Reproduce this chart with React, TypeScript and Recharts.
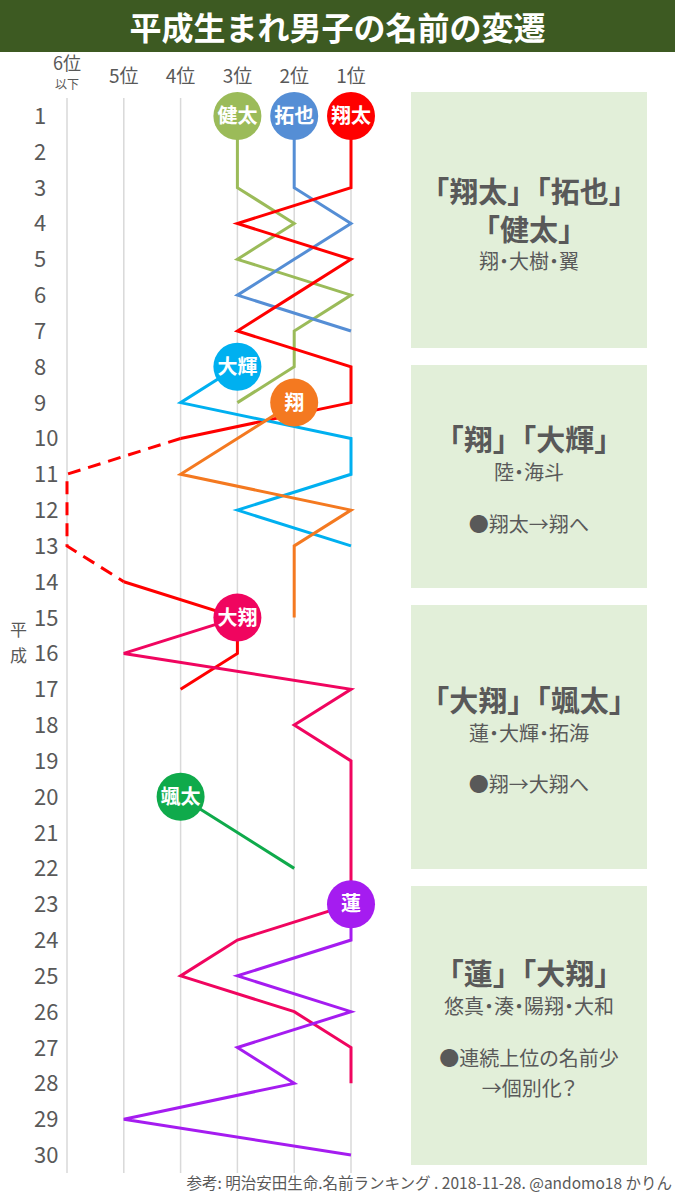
import React from 'react';
import { LineChart, Line, XAxis, YAxis, CartesianGrid, ReferenceDot } from 'recharts';

// ---- data (平成 year → ranking; 6 = 6位以下) ----
const years = [1, 2, 3, 4, 5, 6, 7, 8, 9, 10, 11, 12, 13, 14, 15, 16, 17, 18, 19, 20, 21, 22, 23, 24, 25, 26, 27, 28, 29, 30];
const rankTicks = [1, 2, 3, 4, 5, 6];
const rankLabels = ['1位', '2位', '3位', '4位', '5位', '6位'];

const kentaStart = 1;
const kentaRanks = [3, 3, 3, 2, 3, 1, 2, 2, 3];
const takuyaStart = 1;
const takuyaRanks = [2, 2, 2, 1, 2, 3, 1];
const shotaStart = 1;
const shotaRanks = [1, 1, 1, 3, 1, 2, 3, 1, 1, 4];
const shotaOutStart = 10;
const shotaOutRanks = [4, 6, 6, 6, 5];
const shotaLateStart = 14;
const shotaLateRanks = [5, 3, 3, 4];
const daikiStart = 8;
const daikiRanks = [3, 4, 1, 1, 3, 1];
const shoStart = 9;
const shoRanks = [2, 3, 4, 1, 2, 2, 2];
const hirotoStart = 15;
const hirotoRanks = [3, 5, 1, 2, 1, 1, 1, 1, 1, 3, 4, 2, 1, 1];
const sotaStart = 20;
const sotaRanks = [4, 3, 2];
const renStart = 23;
const renRanks = [1, 1, 3, 1, 3, 2, 5, 1];

const series = [
  { key: 'kenta', name: '健太', start: kentaStart, ranks: kentaRanks, color: '#9bbb59', dashed: false, bubble: true },
  { key: 'takuya', name: '拓也', start: takuyaStart, ranks: takuyaRanks, color: '#558ed5', dashed: false, bubble: true },
  { key: 'shota', name: '翔太', start: shotaStart, ranks: shotaRanks, color: '#ff0000', dashed: false, bubble: true },
  { key: 'shotaOut', name: '翔太', start: shotaOutStart, ranks: shotaOutRanks, color: '#ff0000', dashed: true, bubble: false },
  { key: 'shotaLate', name: '翔太', start: shotaLateStart, ranks: shotaLateRanks, color: '#ff0000', dashed: false, bubble: false },
  { key: 'daiki', name: '大輝', start: daikiStart, ranks: daikiRanks, color: '#00b0f0', dashed: false, bubble: true },
  { key: 'sho', name: '翔', start: shoStart, ranks: shoRanks, color: '#f47920', dashed: false, bubble: true },
  { key: 'hiroto', name: '大翔', start: hirotoStart, ranks: hirotoRanks, color: '#f0055f', dashed: false, bubble: true },
  { key: 'sota', name: '颯太', start: sotaStart, ranks: sotaRanks, color: '#0faa4b', dashed: false, bubble: true },
  { key: 'ren', name: '蓮', start: renStart, ranks: renRanks, color: '#a51cf0', dashed: false, bubble: true },
];

const rows = years.map((y) => {
  const row: any = { year: y };
  series.forEach((s) => {
    const i = y - s.start;
    row[s.key] = i >= 0 && i < s.ranks.length ? s.ranks[i] : null;
  });
  return row;
});

const TEXT = '#595959';
const FONT = '"Noto Sans CJK JP", "Noto Sans", sans-serif';

const RankTick = (props: any) => {
  const { x, y, payload } = props;
  const v = payload.value;
  const label = rankLabels[rankTicks.indexOf(v)];
  if (v === 6) {
    return (
      <g>
        <text x={x} y={y - 20} textAnchor="middle" fontSize={18} fill={TEXT} fontFamily={FONT}>{label}</text>
        <text x={x} y={y - 1} textAnchor="middle" fontSize={12} fill={TEXT} fontFamily={FONT}>以下</text>
      </g>
    );
  }
  return (
    <text x={x} y={y - 7} textAnchor="middle" fontSize={19} fill={TEXT} fontFamily={FONT}>{label}</text>
  );
};

const YearTick = (props: any) => {
  const { y, payload } = props;
  return (
    <text x={34} y={y} dy={8} textAnchor="start" fontSize={22} fill={TEXT} fontFamily={FONT}>{payload.value}</text>
  );
};

const makeBubble = (label: string, color: string) => (p: any) => {
  const { cx, cy } = p;
  if (cx == null || cy == null) return <g />;
  return (
    <g>
      <circle cx={cx} cy={cy} r={24} fill={color} />
      <text x={cx} y={cy} dy={7} textAnchor="middle" fontSize={20} fontWeight="bold" fill="#ffffff" fontFamily={FONT}>{label}</text>
    </g>
  );
};

type PLine = { text: string; size: number; bold?: boolean; cy: number };

const Panel = ({ top, height, lines }: { top: number; height: number; lines: PLine[] }) => (
  <>
    <div style={{ position: 'absolute', left: 411, top, width: 236, height, background: '#e2efd9' }} />
    {lines.map((l, i) => (
      <div
        key={i}
        style={{
          position: 'absolute',
          left: 401,
          width: 256,
          top: l.cy - l.size * 0.7,
          height: l.size * 1.4,
          lineHeight: `${l.size * 1.4}px`,
          textAlign: 'center',
          fontSize: l.size,
          fontWeight: l.bold ? 'bold' : 'normal',
          color: TEXT,
          fontFamily: FONT,
          whiteSpace: 'nowrap',
          fontFeatureSettings: l.bold ? 'normal' : '"palt"',
        }}
      >
        {l.text}
      </div>
    ))}
  </>
);

export default function App() {
  return (
    <div style={{ position: 'absolute', left: 0, top: 0, width: 675, height: 1200, background: '#ffffff', overflow: 'hidden', fontFamily: FONT }}>
      <div style={{ position: 'absolute', left: 0, top: 0, width: 675, height: 52, background: '#3d5a22', color: '#fff', fontSize: 32, fontWeight: 'bold', textAlign: 'center', lineHeight: '52px', fontFamily: FONT }}>
        平成生まれ男子の名前の変遷
      </div>

      <div style={{ position: 'absolute', left: 0, top: 0 }}>
        <LineChart width={400} height={1190} data={rows} layout="vertical" margin={{ top: 58, right: 49, bottom: 17, left: 0 }}>
          <CartesianGrid horizontal={false} stroke="#d9d9d9" strokeWidth={1.5} />
          <XAxis type="number" orientation="top" domain={[1, 6]} ticks={rankTicks} reversed axisLine={false} tickLine={false} height={40} tick={<RankTick />} interval={0} />
          <YAxis type="category" dataKey="year" width={67} axisLine={false} tickLine={false} interval={0} tick={<YearTick />} padding={{ top: 18, bottom: 18 }} />
          {series.map((s) => (
            <Line
              key={s.key}
              type="linear"
              dataKey={s.key}
              stroke={s.color}
              strokeWidth={3}
              strokeDasharray={s.dashed ? '13 8' : undefined}
              dot={false}
              activeDot={false}
              connectNulls={false}
              isAnimationActive={false}
            />
          ))}
          {series.filter((s) => s.bubble).map((s) => (
            <ReferenceDot
              key={'b-' + s.key}
              x={s.ranks[0] as number}
              y={s.start}
              r={24}
              ifOverflow="visible"
              shape={makeBubble(s.name, s.color)}
            />
          ))}
        </LineChart>
      </div>

      <div style={{ position: 'absolute', left: 9, top: 616, width: 19, fontSize: 17, lineHeight: '26px', color: TEXT, textAlign: 'center', fontFamily: FONT }}>
        <div>平</div>
        <div>成</div>
      </div>

      <Panel top={92} height={256} lines={[
        { text: '「翔太」「拓也」', size: 29, bold: true, cy: 190 },
        { text: '「健太」', size: 29, bold: true, cy: 228 },
        { text: '翔・大樹・翼', size: 20, cy: 261 },
      ]} />
      <Panel top={365} height={223} lines={[
        { text: '「翔」「大輝」', size: 29, bold: true, cy: 438 },
        { text: '陸・海斗', size: 20, cy: 472 },
        { text: '●翔太→翔へ', size: 20, cy: 524 },
      ]} />
      <Panel top={605} height={264} lines={[
        { text: '「大翔」「颯太」', size: 29, bold: true, cy: 699 },
        { text: '蓮・大輝・拓海', size: 20, cy: 733 },
        { text: '●翔→大翔へ', size: 20, cy: 784 },
      ]} />
      <Panel top={886} height={279} lines={[
        { text: '「蓮」「大翔」', size: 29, bold: true, cy: 972 },
        { text: '悠真・湊・陽翔・大和', size: 20, cy: 1006 },
        { text: '●連続上位の名前少', size: 20, cy: 1058 },
        { text: '→個別化？', size: 20, cy: 1088 },
      ]} />

      <div style={{ position: 'absolute', right: 3, top: 1171, fontSize: 15.5, lineHeight: '22px', color: TEXT, whiteSpace: 'nowrap', fontFamily: FONT }}>
        参考: 明治安田生命.名前ランキング . 2018-11-28. @andomo18 かりん
      </div>
    </div>
  );
}
